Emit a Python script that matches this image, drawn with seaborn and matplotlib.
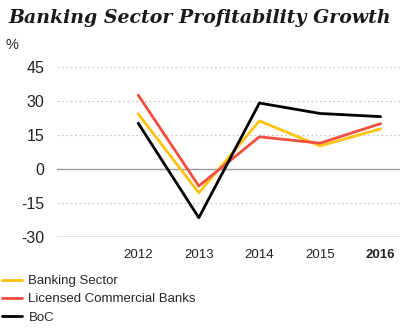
import matplotlib
matplotlib.use("Agg")
import matplotlib.pyplot as plt
import seaborn as sns
import pandas as pd
from matplotlib.lines import Line2D

years = ["2012", "2013", "2014", "2015", "2016"]
banking_sector = [24.3, -10.5, 21.2, 10.2, 17.7]
licensed_banks = [32.6, -7.5, 14.2, 11.4, 20.0]
boc = [20.2, -21.5, 29.1, 24.5, 23.1]
series_names = ["Banking Sector", "Licensed Commercial Banks", "BoC"]
colors = ["#FFC20E", "#F04E3E", "#000000"]
yticks = [45, 30, 15, 0, -15, -30]

sns.set_theme(style="white")
plt.rcParams["font.family"] = ["Liberation Sans", "DejaVu Sans"]

rows = []
for name, vals in zip(series_names, [banking_sector, licensed_banks, boc]):
    for i, (y, v) in enumerate(zip(years, vals)):
        rows.append({"idx": i, "year": y, "value": v, "series": name})
df = pd.DataFrame(rows)

fig = plt.figure(figsize=(4.01, 3.30), dpi=100)
ax = fig.add_axes([57/401, 1-237/330, 343/401, (237-67)/330])

for t in yticks:
    if t == 0:
        ax.axhline(t, color="#9a9a9a", lw=1.0, zorder=1)
    elif t == -30:
        ax.axhline(t, color="#dddddd", lw=1.2, zorder=1)
    else:
        ax.axhline(t, color="#c8c8c8", lw=0.9, ls=(0, (1.5, 2)), zorder=1)

sns.lineplot(data=df, x="idx", y="value", hue="series", palette=colors,
             hue_order=series_names, linewidth=2.0, ax=ax, legend=False, zorder=3)

ax.set_xlim(-1.34, 4.32)
ax.set_ylim(-30, 45)
ax.set_yticks(yticks)
ax.set_yticklabels([str(t) for t in yticks], fontsize=11.5, color="#222222")
ax.set_xticks(range(len(years)))
ax.set_xticklabels(years, fontsize=9.5, color="#222222")
ax.get_xticklabels()[-1].set_fontweight("bold")
ax.tick_params(axis="both", length=0)
ax.tick_params(axis="y", pad=9)
ax.tick_params(axis="x", pad=9)
ax.set_xlabel("")
ax.set_ylabel("")
for s in ax.spines.values():
    s.set_visible(False)
ax.set_facecolor("none")

fig.text(8/401, 1-18/330, "Banking Sector Profitability Growth",
         fontsize=13.6, fontweight="bold", fontstyle="italic",
         family="DejaVu Serif", va="center", ha="left", color="#1a1a1a")
fig.text(6/401, 1-45/330, "%", fontsize=10.5, va="center", ha="left", color="#222222")

handles = [Line2D([0], [0], color=c, lw=2) for c in colors]
fig.legend(handles, series_names, loc="upper left", bbox_to_anchor=(0.005, 1-275/330),
           frameon=False, fontsize=9.5, handlelength=1.5, handletextpad=0.5,
           labelspacing=0.45, borderaxespad=0, borderpad=0)

fig.savefig("out.png", dpi=100)
